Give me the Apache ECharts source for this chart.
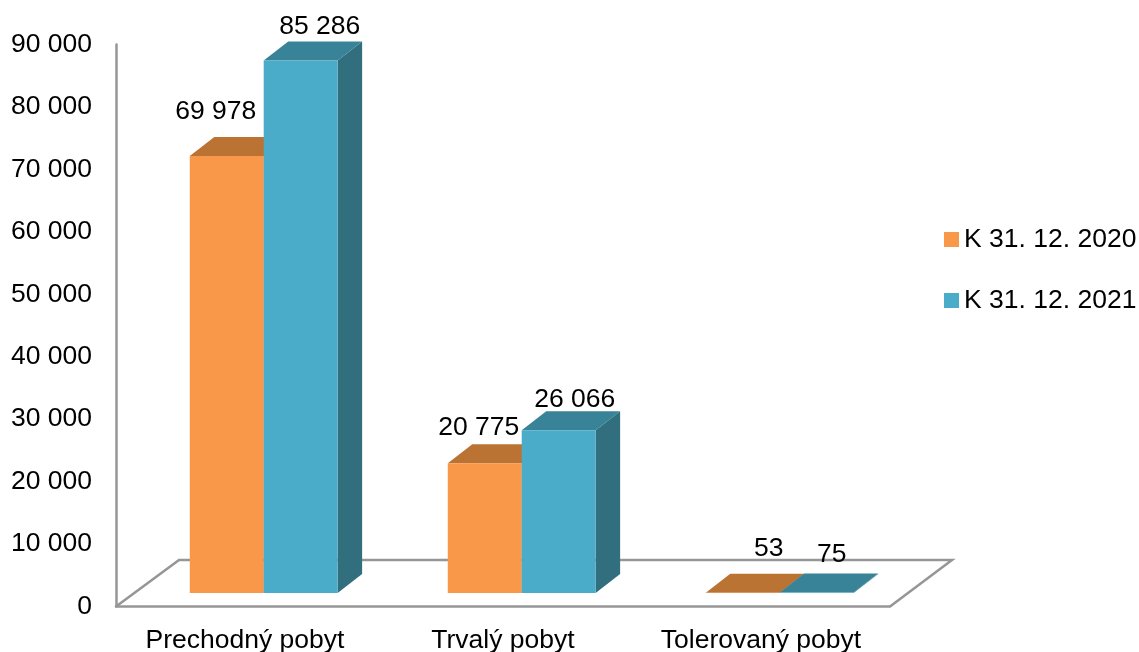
<!DOCTYPE html>
<html>
<head>
<meta charset="utf-8">
<style>html,body{margin:0;padding:0;background:#fff}#c{width:1139px;height:652px}</style>
<script src="https://cdn.jsdelivr.net/npm/echarts@6/dist/echarts.min.js"></script>
</head>
<body>
<div id="c"></div>
<script>
var categories = ['Prechodný pobyt', 'Trvalý pobyt', 'Tolerovaný pobyt'];
var seriesNames = ['K 31. 12. 2020', 'K 31. 12. 2021'];
var values2020 = [69978, 20775, 53];
var values2021 = [85286, 26066, 75];
var yTicks = { min: 0, max: 90000, interval: 10000 };

// styling and layout, separate from the data
var FONT = '26.5px "Liberation Sans", Arial, sans-serif';
var palette2020 = { front: '#FA9849', top: '#BA7333', side: '#9A5E28' };
var palette2021 = { front: '#4AACC8', top: '#398398', side: '#316F7E' };
var depthX = 24.5, depthY = 19, baseShift = 13.5;
var barRatio = 0.2865, groupShift = 0.0725;
var labelNudge2020 = [[-11, -25], [-6, -17], [26, -25]];
var labelNudge2021 = [[19, -15], [16, -12], [15, -19]];

function fmt(v) { return String(v).replace(/\B(?=(\d{3})+$)/g, ' '); }

function barRenderer(sideIndex, palette, nudges) {
  return function (params, api) {
    var cat = api.value(0), val = api.value(1);
    var top = api.coord([cat, val]);
    var base = api.coord([cat, 0]);
    var step = api.size([1, 0])[0];
    var w = step * barRatio;
    var x0 = top[0] + step * groupShift + (sideIndex - 1) * w;
    var x1 = x0 + w;
    var yT = top[1] - baseShift, yB = base[1] - baseShift;
    var face = function (pts, fill) {
      return { type: 'polygon', shape: { points: pts }, style: { fill: fill, stroke: null } };
    };
    var n = nudges[params.dataIndex];
    return {
      type: 'group',
      children: [
        face([[x1, yB], [x1 + depthX, yB - depthY], [x1 + depthX, yT - depthY], [x1, yT]], palette.side),
        face([[x0, yT], [x0 + depthX, yT - depthY], [x1 + depthX, yT - depthY], [x1, yT]], palette.top),
        { type: 'rect', shape: { x: x0, y: yT, width: w, height: yB - yT }, style: { fill: palette.front } },
        { type: 'text', z2: 50, style: {
            text: fmt(val), x: (x0 + x1) / 2 + n[0], y: yT - depthY + n[1],
            align: 'center', verticalAlign: 'middle', font: FONT, fill: '#000'
        } }
      ]
    };
  };
}

function floorRenderer(params) {
  var c = params.coordSys;
  var bottom = c.y + c.height, left = c.x, right = c.x + c.width;
  return {
    type: 'polyline',
    shape: { points: [[left, bottom], [left + 63, bottom - 46.5], [right + 62, bottom - 46.5], [right, bottom]] },
    style: { fill: null, stroke: '#969696', lineWidth: 2.5 }
  };
}

function rows(arr) { return arr.map(function (v, i) { return [i, v]; }); }

var chart = echarts.init(document.getElementById('c'), null, { renderer: 'canvas' });
chart.setOption({
  animation: false,
  backgroundColor: '#fff',
  textStyle: { fontFamily: '"Liberation Sans", Arial, sans-serif' },
  grid: { left: 116, top: 44.5, width: 774, height: 562, containLabel: false, outerBoundsMode: 'none' },
  legend: {
    orient: 'vertical', left: 939, top: 221, itemWidth: 15, itemHeight: 15, itemGap: 34,
    icon: 'rect', data: seriesNames,
    textStyle: { fontSize: 26.5, color: '#000' }
  },
  xAxis: {
    type: 'category', data: categories,
    axisLine: { lineStyle: { color: '#969696', width: 2.5 } },
    axisTick: { show: false },
    axisLabel: { fontSize: 26.5, color: '#000', margin: 21, interval: 0, hideOverlap: false }
  },
  yAxis: {
    type: 'value', min: yTicks.min, max: yTicks.max, interval: yTicks.interval,
    axisLine: { show: true, lineStyle: { color: '#969696', width: 2.5 } },
    axisTick: { show: false },
    splitLine: { show: false },
    axisLabel: { fontSize: 26.5, color: '#000', margin: 24, formatter: fmt, padding: [7, 0, 0, 0], hideOverlap: false }
  },
  series: [
    { type: 'custom', name: 'floor', silent: true, z: 1, data: [[0, 0]], renderItem: floorRenderer, encode: { x: 0, y: 1 } },
    { type: 'custom', name: seriesNames[0], z: 2, data: rows(values2020), itemStyle: { color: palette2020.front },
      renderItem: barRenderer(0, palette2020, labelNudge2020), encode: { x: 0, y: 1 } },
    { type: 'custom', name: seriesNames[1], z: 3, data: rows(values2021), itemStyle: { color: palette2021.front },
      renderItem: barRenderer(1, palette2021, labelNudge2021), encode: { x: 0, y: 1 } }
  ]
});
</script>
</body>
</html>
